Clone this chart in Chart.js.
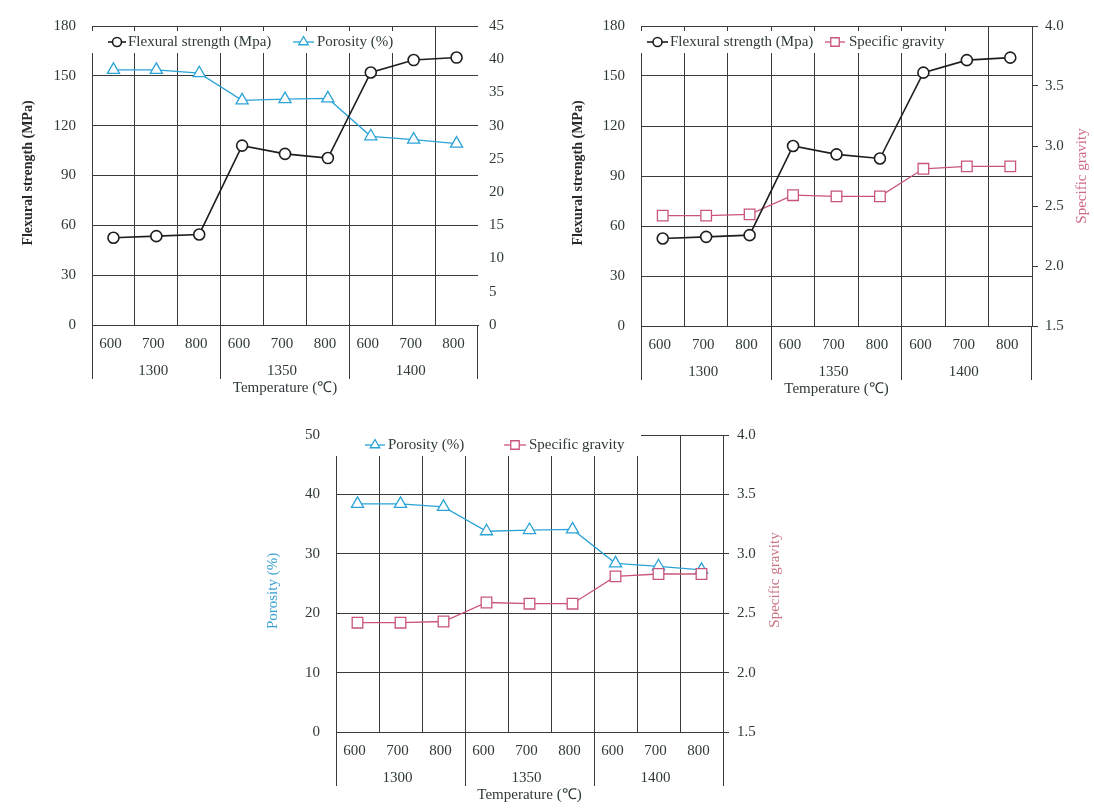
<!DOCTYPE html>
<html><head><meta charset="utf-8">
<script src="https://cdn.jsdelivr.net/npm/chart.js@4.4.1/dist/chart.umd.min.js"></script>
<style>
body{margin:0;background:#fff;width:1094px;height:808px;position:relative;overflow:hidden}
canvas{position:absolute}
</style></head>
<body>
<canvas id="c1" width="540" height="400" style="left:0px;top:0px"></canvas>
<canvas id="c2" width="554" height="400" style="left:540px;top:0px"></canvas>
<canvas id="c3" width="560" height="398" style="left:250px;top:410px"></canvas>
<script>
// ---- data ----
const temperatureLabels = ['600','700','800','600','700','800','600','700','800'];
const sinteringGroups = ['1300','1350','1400'];
const flexuralStrength = [52.5, 53.5, 54.5, 108, 103, 100.5, 152, 159.5, 161];
const porosity = [38.4, 38.4, 37.9, 33.8, 34.0, 34.1, 28.4, 27.9, 27.3];
const specificGravity = [2.42, 2.42, 2.43, 2.59, 2.58, 2.58, 2.81, 2.83, 2.83];
const flexuralAxis = [0, 180, 30];
const porosityAxisA = [0, 45, 5];
const porosityAxisB = [0, 50, 10];
const gravityAxis = [1.5, 4.0, 0.5];

const FONT = '"Liberation Serif", "Times New Roman", serif';
const TXT = '#2f3939';
const GRID = '#3a3a3a';
const BLACK = '#1e1e1e', BLUE = '#2ba3d6', PINK = '#c9557a';

const dsFlex = () => ({label:'Flexural strength (Mpa)', data: flexuralStrength, yAxisID:'y', order:0,
  borderColor: BLACK, borderWidth: 1.6, pointStyle:'circle', pointRadius: 5.5, pointBorderWidth: 1.6,
  pointBackgroundColor:'#fff', pointBorderColor: BLACK, tension: 0});
const dsPor = (axis, order) => ({label:'Porosity (%)', data: porosity, yAxisID: axis, order,
  borderColor: BLUE, borderWidth: 1.3, pointStyle:'triangle', pointRadius: 7, pointBorderWidth: 1.3,
  pointBackgroundColor:'#fff', pointBorderColor: BLUE, tension: 0});
const dsSG = (axis, order) => ({label:'Specific gravity', data: specificGravity, yAxisID: axis, order,
  borderColor: PINK, borderWidth: 1.3, pointStyle:'rect', pointRadius: 7.5, pointBorderWidth: 1.3,
  pointBackgroundColor:'#fff', pointBorderColor: PINK, tension: 0});

function alignPx(p){ return Math.round(p - 0.5) + 0.5; }

function decor(o){
  return {
    id:'decor',
    beforeDatasetsDraw(chart){
      const ctx = chart.ctx;
      ctx.save();
      ctx.fillStyle = '#fff';
      ctx.fillRect(o.box[0], o.box[1], o.box[2], o.box[3]);
      ctx.font = '15px ' + FONT;
      ctx.textBaseline = 'middle'; ctx.textAlign = 'left';
      o.items.forEach(it => {
        const ds = chart.data.datasets[it.ds];
        ctx.strokeStyle = ds.borderColor; ctx.lineWidth = ds.borderWidth;
        ctx.beginPath(); ctx.moveTo(it.x0, o.ly); ctx.lineTo(it.x1, o.ly); ctx.stroke();
        ctx.fillStyle = '#fff';
        ctx.lineWidth = ds.pointBorderWidth;
        Chart.helpers.drawPoint(ctx, {pointStyle: ds.pointStyle, rotation: 0, radius: it.r, borderWidth: ds.pointBorderWidth}, (it.x0 + it.x1) / 2, o.ly);
        ctx.fillStyle = TXT;
        ctx.fillText(ds.label, it.tx, o.ly);
      });
      ctx.restore();
    },
    afterDraw(chart){
      const ctx = chart.ctx, a = chart.chartArea, xs = chart.scales.x;
      const w = xs.getPixelForValue(1) - xs.getPixelForValue(0);
      const b0 = xs.getPixelForValue(0) - w / 2;
      ctx.save();
      ctx.strokeStyle = GRID; ctx.lineWidth = 1;
      [0, 3, 6, 9].forEach(k => {
        const px = alignPx(b0 + k * w);
        ctx.beginPath(); ctx.moveTo(px, a.bottom); ctx.lineTo(px, a.bottom + 54); ctx.stroke();
      });
      ctx.font = '15px ' + FONT; ctx.fillStyle = TXT;
      ctx.textAlign = 'center'; ctx.textBaseline = 'middle';
      sinteringGroups.forEach((g, j) => ctx.fillText(g, b0 + (j * 3 + 1.5) * w - 3, a.bottom + 46));
      ctx.fillText('Temperature (\u2103)', (a.left + a.right) / 2, a.bottom + 63);
      o.titles.forEach(t => {
        ctx.save();
        ctx.translate(t.x, t.y); ctx.rotate(-Math.PI / 2);
        ctx.font = t.font; ctx.fillStyle = t.color;
        ctx.textAlign = 'center'; ctx.textBaseline = 'middle';
        ctx.fillText(t.text, 0, 0);
        ctx.restore();
      });
      ctx.restore();
    }
  };
}

function yScale(pos, rng, width, pad, opts){
  return {
    position: pos, min: rng[0], max: rng[1],
    ticks: { stepSize: rng[2], padding: pad, color: TXT, font: {family: FONT, size: 15},
      callback: opts.fixed ? (v => Number(v).toFixed(1)) : (v => v) },
    grid: { display: opts.grid !== false || opts.tickMarks, drawOnChartArea: !!opts.grid, drawTicks: !!opts.tickMarks,
      tickLength: 6, color: GRID, lineWidth: 1 },
    border: { display: opts.border !== false, color: GRID, width: 1 },
    afterFit: s => { s.width = width; }
  };
}

function makeChart(id, o){
  new Chart(document.getElementById(id), {
    type: 'line',
    data: { labels: temperatureLabels, datasets: o.datasets },
    options: {
      responsive: false, animation: false, devicePixelRatio: 1,
      layout: { padding: { top: o.top, left: 0, right: 0, bottom: 0 } },
      plugins: { legend: { display: false }, tooltip: { enabled: false } },
      scales: {
        x: {
          type: 'category', offset: true,
          grid: { offset: true, drawTicks: false, lineWidth: 1,
            color: c => (c.type === 'scale' && !o.rightEdge) ? 'rgba(0,0,0,0)' : GRID },
          border: { display: true, color: GRID },
          ticks: { autoSkip: false, maxRotation: 0, padding: 10, labelOffset: -3, color: TXT, font: {family: FONT, size: 15} },
          afterFit: s => { s.height = o.xh; }
        },
        y: yScale('left', o.yl, o.lw, 16, {grid: true}),
        y1: yScale('right', o.yr, o.rw, o.rpad, o.ropts)
      }
    },
    plugins: [decor(o)]
  });
}

// Chart 1: flexural strength + porosity
makeChart('c1', {
  top: 26, lw: 92, rw: 62, xh: 75, rightEdge: false,
  yl: flexuralAxis, yr: porosityAxisA, rpad: 11,
  ropts: {grid: false, tickMarks: false, border: false},
  datasets: [dsFlex(), dsPor('y1', 1)],
  box: [89, 31, 312, 22], ly: 42,
  items: [{ds: 0, x0: 108, x1: 126, tx: 128, r: 4.5}, {ds: 1, x0: 293, x1: 314, tx: 317, r: 5.5}],
  titles: [{text: 'Flexural strength (MPa)', x: 28, y: 173, font: 'bold 14px ' + FONT, color: '#2a2a2a'}]
});

// Chart 2: flexural strength + specific gravity
makeChart('c2', {
  top: 26, lw: 101, rw: 62, xh: 74, rightEdge: true,
  yl: flexuralAxis, yr: gravityAxis, rpad: 7,
  ropts: {grid: false, tickMarks: true, border: true, fixed: true},
  datasets: [dsFlex(), dsSG('y1', 1)],
  box: [98, 31, 318, 22], ly: 42,
  items: [{ds: 0, x0: 107, x1: 128, tx: 130, r: 4.5}, {ds: 1, x0: 285, x1: 305, tx: 309, r: 6}],
  titles: [{text: 'Flexural strength (MPa)', x: 38, y: 173, font: 'bold 14px ' + FONT, color: '#2a2a2a'},
           {text: 'Specific gravity', x: 542, y: 176, font: '15px ' + FONT, color: '#d06a85'}]
});

// Chart 3: porosity + specific gravity
makeChart('c3', {
  top: 21, lw: 86, rw: 87, xh: 76, rightEdge: true,
  yl: porosityAxisB, yr: gravityAxis, rpad: 8,
  ropts: {grid: false, tickMarks: true, border: true, fixed: true},
  datasets: [dsPor('y', 1), dsSG('y1', 0)],
  box: [83, 24, 308, 22], ly: 35,
  items: [{ds: 0, x0: 115, x1: 135, tx: 138, r: 5.5}, {ds: 1, x0: 254, x1: 276, tx: 279, r: 6}],
  titles: [{text: 'Porosity (%)', x: 23, y: 181, font: '15px ' + FONT, color: '#3aa0d2'},
           {text: 'Specific gravity', x: 525, y: 170, font: '15px ' + FONT, color: '#c97585'}]
});
</script>
</body></html>
